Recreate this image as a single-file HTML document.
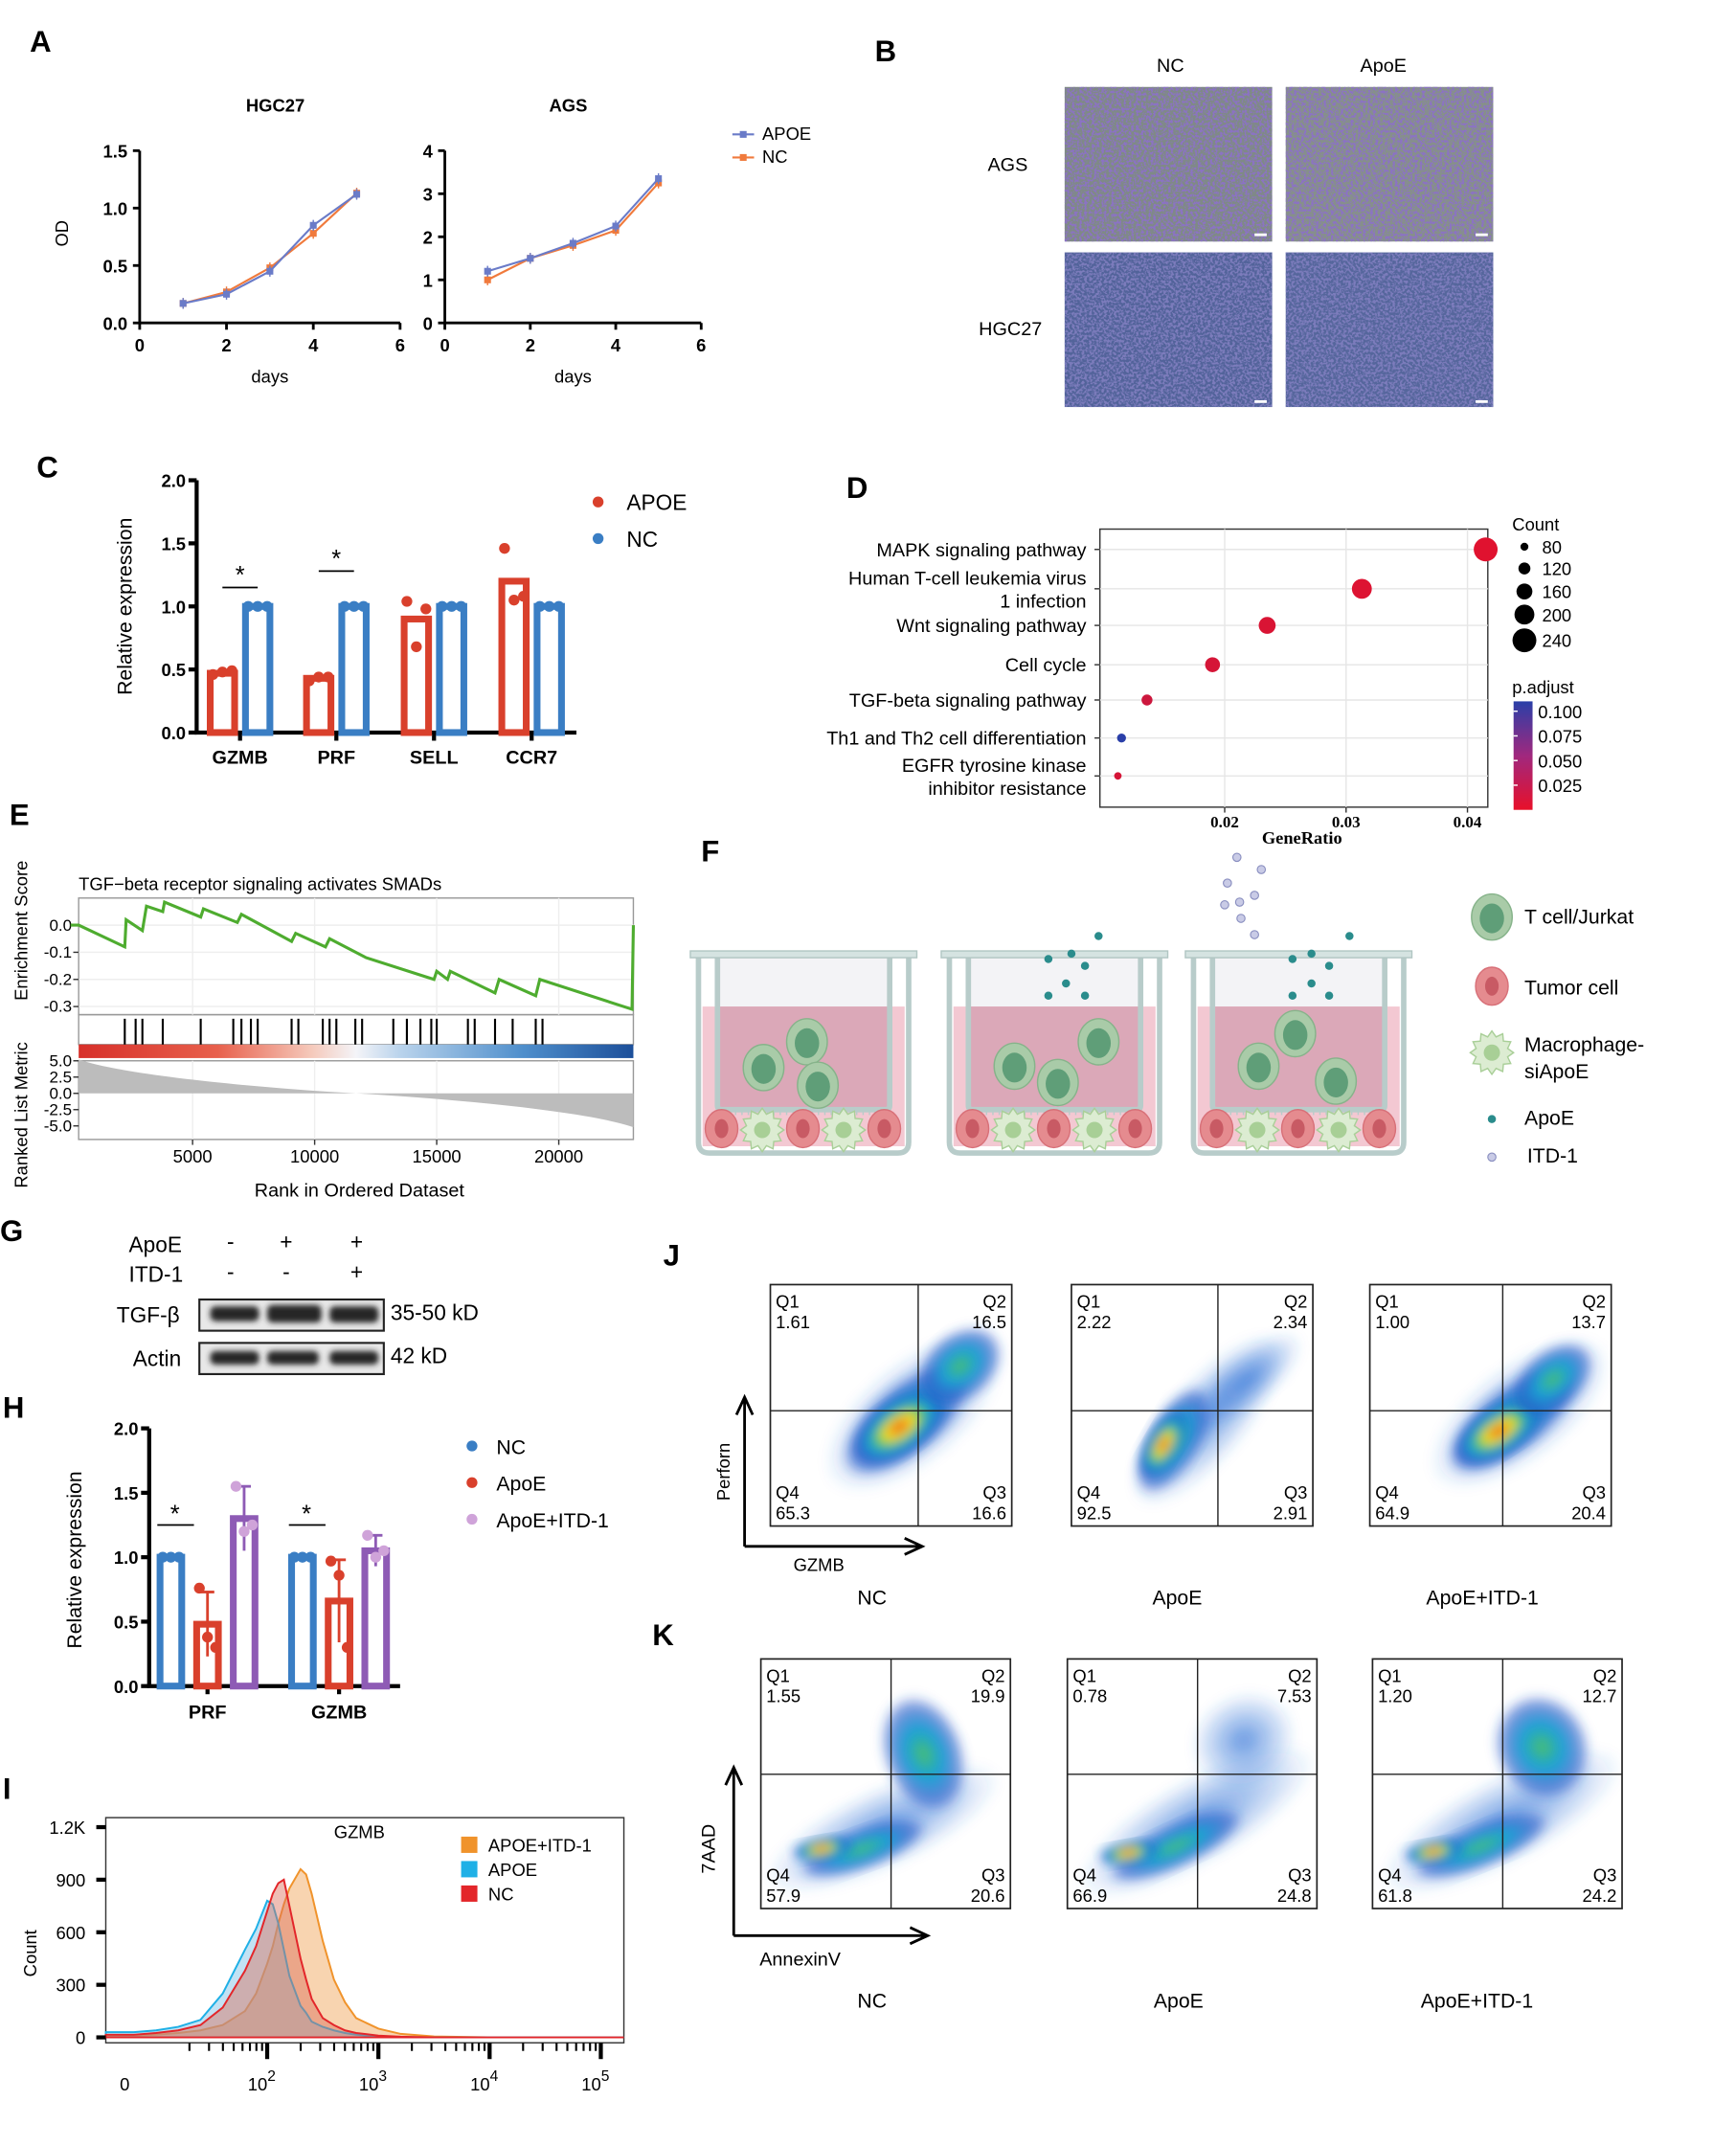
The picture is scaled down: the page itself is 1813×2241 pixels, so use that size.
<!DOCTYPE html>
<html><head><meta charset="utf-8">
<style>
html,body{margin:0;padding:0;background:#fff;}
svg{display:block;font-family:"Liberation Sans",Arial,sans-serif;}
.pl{font-weight:bold;font-size:22px;}
</style></head>
<body>
<svg id="fig" width="1813" height="2241" viewBox="0 0 1280 1582" xmlns="http://www.w3.org/2000/svg">
<defs>
<filter id="texP" x="0" y="0" width="100%" height="100%"><feTurbulence type="fractalNoise" baseFrequency="0.55" numOctaves="2" seed="3"/><feColorMatrix type="matrix" values="0 0 0 0 0.26  0 0 0 0 0.17  0 0 0 0 0.55  6 0 0 0 -2.7"/><feComposite in2="SourceGraphic" operator="in"/></filter>
<filter id="texB" x="0" y="0" width="100%" height="100%"><feTurbulence type="fractalNoise" baseFrequency="0.55" numOctaves="2" seed="7"/><feColorMatrix type="matrix" values="0 0 0 0 0.2  0 0 0 0 0.2  0 0 0 0 0.5  6 0 0 0 -2.6"/><feComposite in2="SourceGraphic" operator="in"/></filter>
<filter id="blur"><feGaussianBlur stdDeviation="4"/></filter>
<filter id="blur2"><feGaussianBlur stdDeviation="2"/></filter>
<linearGradient id="padj" x1="0" y1="0" x2="0" y2="1"><stop offset="0" stop-color="#2a3fa8"/><stop offset="0.5" stop-color="#a0287e"/><stop offset="1" stop-color="#e8102a"/></linearGradient>
<linearGradient id="rankbar" x1="0" y1="0" x2="1" y2="0"><stop offset="0" stop-color="#d7302a"/><stop offset="0.25" stop-color="#e8604c"/><stop offset="0.42" stop-color="#f5c9bb"/><stop offset="0.5" stop-color="#f4f4f8"/><stop offset="0.58" stop-color="#b9d3ec"/><stop offset="0.8" stop-color="#4f8fcc"/><stop offset="1" stop-color="#1c4f9a"/></linearGradient>
<radialGradient id="dens"><stop offset="0" stop-color="#e31a1c"/><stop offset="0.18" stop-color="#f7a21b"/><stop offset="0.32" stop-color="#f4e623"/><stop offset="0.48" stop-color="#4cc06a"/><stop offset="0.65" stop-color="#19a3d6"/><stop offset="0.85" stop-color="#2456c8" stop-opacity="0.8"/><stop offset="1" stop-color="#2456c8" stop-opacity="0"/></radialGradient>
<radialGradient id="densL"><stop offset="0" stop-color="#4cc06a"/><stop offset="0.4" stop-color="#19a3d6"/><stop offset="0.8" stop-color="#2456c8" stop-opacity="0.6"/><stop offset="1" stop-color="#2456c8" stop-opacity="0"/></radialGradient>
<radialGradient id="densS"><stop offset="0" stop-color="#2a6fd6" stop-opacity="0.7"/><stop offset="1" stop-color="#2a6fd6" stop-opacity="0"/></radialGradient>
</defs>

<g>
<text class="pl" x="22" y="38">A</text><text class="pl" x="645" y="45">B</text><text class="pl" x="27" y="352">C</text>
<text class="pl" x="624" y="367">D</text><text class="pl" x="7" y="608">E</text><text class="pl" x="517" y="635">F</text>
<text class="pl" x="0" y="915">G</text><text class="pl" x="2" y="1045">H</text><text class="pl" x="2" y="1326">I</text>
<text class="pl" x="489" y="933">J</text><text class="pl" x="481" y="1213">K</text>
</g>

<g id="panelB" font-size="14">
<text x="863" y="53" text-anchor="middle">NC</text><text x="1020" y="53" text-anchor="middle">ApoE</text>
<text x="743" y="126" text-anchor="middle">AGS</text><text x="745" y="247" text-anchor="middle">HGC27</text>
<rect x="785" y="64" width="153" height="114" fill="#7f8a86"/>
<rect x="785" y="64" width="153" height="114" fill="#000" filter="url(#texP)"/>
<rect x="948" y="64" width="153" height="114" fill="#86908a"/>
<rect x="948" y="64" width="153" height="114" fill="#000" filter="url(#texP)"/>
<rect x="785" y="186" width="153" height="114" fill="#52639a"/>
<rect x="785" y="186" width="153" height="114" fill="#000" filter="url(#texB)"/>
<rect x="948" y="186" width="153" height="114" fill="#55669c"/>
<rect x="948" y="186" width="153" height="114" fill="#000" filter="url(#texB)"/>
<g fill="#fff"><rect x="925" y="172" width="9" height="2"/><rect x="1088" y="172" width="9" height="2"/><rect x="925" y="295" width="9" height="2"/><rect x="1088" y="295" width="9" height="2"/></g>
</g>

<g id="panelF"></g>

<g id="panelG" font-size="16">
<text x="95" y="923">ApoE</text><text x="95" y="945">ITD-1</text>
<text x="170" y="921" text-anchor="middle">-</text><text x="211" y="921" text-anchor="middle">+</text><text x="263" y="921" text-anchor="middle">+</text>
<text x="170" y="943" text-anchor="middle">-</text><text x="211" y="943" text-anchor="middle">-</text><text x="263" y="943" text-anchor="middle">+</text>
<text x="86" y="975">TGF-β</text><text x="98" y="1007">Actin</text>
<rect x="147" y="958" width="136" height="23" fill="#e8e8e8" stroke="#222" stroke-width="1.5"/>
<rect x="147" y="990" width="136" height="23" fill="#e8e8e8" stroke="#222" stroke-width="1.5"/>
<g fill="#262626" filter="url(#blur2)">
<rect x="155" y="963" width="36" height="11" rx="4"/><rect x="197" y="962" width="40" height="13" rx="4"/><rect x="243" y="963" width="36" height="12" rx="4"/>
<rect x="155" y="996" width="36" height="10" rx="4"/><rect x="197" y="996" width="38" height="10" rx="4"/><rect x="243" y="996" width="36" height="10" rx="4"/>
</g>
<text x="288" y="973">35-50 kD</text><text x="288" y="1005">42 kD</text>
</g>

<g id="panelJK"></g>

<g id="charts"></g>
</svg>

<script>
// Panel A
const aDays = [1,2,3,4,5];
const hgcApoe = [0.17,0.25,0.45,0.85,1.12];
const hgcNC = [0.17,0.27,0.48,0.78,1.13];
const agsApoe = [1.2,1.5,1.85,2.25,3.35];
const agsNC = [1.0,1.5,1.8,2.15,3.25];
// Panel C
const cGenes = ["GZMB","PRF","SELL","CCR7"];
const cApoe = [0.47,0.43,0.90,1.20];
const cNC = [1.0,1.0,1.0,1.0];
const cApoePts = [[0.46,0.48,0.49],[0.41,0.44,0.44],[1.04,0.68,0.98],[1.46,1.05,1.08]];
const cYTicks = [0,0.5,1.0,1.5,2.0];
// Panel D
const dPaths = ["MAPK signaling pathway","Human T-cell leukemia virus|1 infection","Wnt signaling pathway","Cell cycle","TGF-beta signaling pathway","Th1 and Th2 cell differentiation","EGFR tyrosine kinase|inhibitor resistance"];
const dRatio = [0.0415,0.0313,0.0235,0.019,0.0136,0.0115,0.0112];
const dCount = [240,200,170,150,110,90,75];
const dPadj = [0.004,0.006,0.008,0.010,0.015,0.100,0.010];
const dXTicks = [0.02,0.03,0.04];
const dCountLegend = [80,120,160,200,240];
const dPadjTicks = [0.100,0.075,0.050,0.025];
// Panel E
const eRank = [0,333,2222,2278,2944,3111,3778,3850,5333,5444,6833,7000,9056,9222,10444,10611,12111,14889,15000,15444,15556,17389,17556,19056,19222,23000,23056];
const eES   = [0,0.0,-0.08,0.02,-0.02,0.07,0.05,0.085,0.03,0.06,0.01,0.04,-0.06,-0.03,-0.08,-0.05,-0.12,-0.2,-0.17,-0.2,-0.17,-0.25,-0.2,-0.26,-0.2,-0.31,0.0];
const eHits = [2222,2667,2944,3778,5333,6667,7000,7389,7667,9056,9333,10333,10611,10889,11667,11944,13222,13778,14333,14778,15000,16278,16556,17389,18111,19056,19333];
const eXTicks = [5000,10000,15000,20000];
const eYTicks = [0.0,-0.1,-0.2,-0.3];
const eMetricTicks = [5.0,2.5,0.0,-2.5,-5.0];
// Panel H
const hGenes = ["PRF","GZMB"];
const hNC = [1.0,1.0];
const hApoe = [0.48,0.66];
const hItd = [1.30,1.05];
const hApoeErr = [0.25,0.32];
const hItdErr = [0.25,0.12];
const hApoePts = [[0.76,0.38,0.30],[0.97,0.86,0.30]];
const hItdPts = [[1.55,1.20,1.25],[1.17,1.00,1.05]];
const hYTicks = [0,0.5,1.0,1.5,2.0];
// Panel I
const iLog = [0.8,1.0,1.2,1.4,1.6,1.8,1.9,2.0,2.05,2.1,2.15,2.2,2.3,2.35,2.4,2.5,2.6,2.7,2.8,3.0,3.2,3.5,4.0,4.5];
const iApoe = [30,40,60,100,250,500,620,780,760,650,500,350,180,140,90,60,40,25,15,5,2,0,0,0];
const iNC   = [15,25,40,70,170,380,520,720,820,880,900,750,450,330,220,110,70,40,25,10,4,0,0,0];
const iItd  = [10,15,25,40,70,150,250,420,520,650,760,850,960,930,820,550,330,200,110,50,20,5,0,0];
const iYTicks = [0,300,600,900,1200];
const iYLabels = ["0","300","600","900","1.2K"];
const iXDecades = [2,3,4,5];
// Flow quadrant values
const jGroups = ["NC","ApoE","ApoE+ITD-1"];
const jQ1 = ["1.61","2.22","1.00"], jQ2 = ["16.5","2.34","13.7"], jQ3 = ["16.6","2.91","20.4"], jQ4 = ["65.3","92.5","64.9"];
const kQ1 = ["1.55","0.78","1.20"], kQ2 = ["19.9","7.53","12.7"], kQ3 = ["20.6","24.8","24.2"], kQ4 = ["57.9","66.9","61.8"];

const NS = "http://www.w3.org/2000/svg";
const root = document.getElementById("charts");
function el(tag, attrs, parent, txt){
  const e = document.createElementNS(NS, tag);
  for (const k in attrs) e.setAttribute(k, attrs[k]);
  if (txt !== undefined) e.textContent = txt;
  (parent || root).appendChild(e);
  return e;
}
function grp(name, parent){
  const g = el("g", {}, parent);
  
  
  return g;
}

function lineChart(name, title, x0, x1, y0, y1, ymax, yTicks, apoe, nc, titleX){
  const g = grp(name);
  const sx = d => x0 + d/6*(x1-x0);
  const sy = v => y0 - v/ymax*(y0-y1);
  el("text", {x:titleX, y:82, "text-anchor":"middle", "font-size":13, "font-weight":"bold"}, g, title);
  el("path", {d:`M${x0} ${y1}V${y0}H${x1}`, fill:"none", stroke:"#000", "stroke-width":2}, g);
  yTicks.forEach(t => {
    el("line", {x1:x0-5, x2:x0, y1:sy(t), y2:sy(t), stroke:"#000", "stroke-width":2}, g);
    el("text", {x:x0-9, y:sy(t)+5, "text-anchor":"end", "font-size":13, "font-weight":"bold"}, g, t.toFixed(ymax<2?1:0));
  });
  [0,2,4,6].forEach(d => {
    el("line", {x1:sx(d), x2:sx(d), y1:y0, y2:y0+5, stroke:"#000", "stroke-width":2}, g);
    el("text", {x:sx(d), y:y0+21, "text-anchor":"middle", "font-size":13, "font-weight":"bold"}, g, d);
  });
  el("text", {x:(x0+x1)/2, y:y0+44, "text-anchor":"middle", "font-size":13}, g, "days");
  [[nc,"#f07a3c"],[apoe,"#6a7bc8"]].forEach(([s,c]) => {
    const l = el("polyline", {points:aDays.map((d,i)=>sx(d)+","+sy(s[i])).join(" "), fill:"none", stroke:c, "stroke-width":1.5}, g);
    
    aDays.forEach((d,i) => {
      el("line", {x1:sx(d), x2:sx(d), y1:sy(s[i])-4, y2:sy(s[i])+4, stroke:c, "stroke-width":1}, g);
      el("rect", {x:sx(d)-2.5, y:sy(s[i])-2.5, width:5, height:5, fill:c}, g);
    });
  });
}
lineChart("hgc27-growth-chart","HGC27",103,295,238,111,1.5,[0,0.5,1.0,1.5],hgcApoe,hgcNC,203);
lineChart("ags-growth-chart","AGS",328,517,238,111,4,[0,1,2,3,4],agsApoe,agsNC,419);
{
  const g = grp("panel-a-legend");
  el("text", {x:50, y:172, "font-size":13, transform:"rotate(-90 50 172)", "text-anchor":"middle"}, g, "OD");
  el("line", {x1:540,x2:556,y1:99,y2:99,stroke:"#6a7bc8","stroke-width":1.5}, g);
  el("rect", {x:545.5,y:96.5,width:5,height:5,fill:"#6a7bc8"}, g);
  el("text", {x:562,y:103,"font-size":13}, g, "APOE");
  el("line", {x1:540,x2:556,y1:116,y2:116,stroke:"#f07a3c","stroke-width":1.5}, g);
  el("rect", {x:545.5,y:113.5,width:5,height:5,fill:"#f07a3c"}, g);
  el("text", {x:562,y:120,"font-size":13}, g, "NC");
}

{
  const g = grp("panel-c-bar-chart");
  const x0=145, x1=425, y0=540, y1=354;
  const sy = v => y0 - v/2*(y0-y1);
  const centers = [177,248,320,392];
  el("path", {d:`M${x0} ${y1}V${y0}H${x1}`, fill:"none", stroke:"#000", "stroke-width":3}, g);
  cYTicks.forEach(t => {
    el("line", {x1:x0-6,x2:x0,y1:sy(t),y2:sy(t),stroke:"#000","stroke-width":3}, g);
    el("text", {x:x0-8,y:sy(t)+5,"text-anchor":"end","font-size":13,"font-weight":"bold"}, g, t.toFixed(1));
  });
  el("text", {x:97,y:447,"font-size":15,transform:"rotate(-90 97 447)","text-anchor":"middle"}, g, "Relative expression");
  cGenes.forEach((gn,i) => {
    const c = centers[i];
    el("line", {x1:c,x2:c,y1:y0,y2:y0+6,stroke:"#000","stroke-width":3}, g);
    el("text", {x:c,y:y0+23,"text-anchor":"middle","font-size":14,"font-weight":"bold"}, g, gn);
    const rb = el("rect", {x:c-22,y:sy(cApoe[i]),width:18,height:y0-sy(cApoe[i]),fill:"#fff",stroke:"#d9402c","stroke-width":5}, g);
    
    const bb = el("rect", {x:c+4,y:sy(cNC[i]),width:18,height:y0-sy(cNC[i]),fill:"#fff",stroke:"#3a7ec4","stroke-width":5}, g);
    
    cApoePts[i].forEach((v,j) => el("circle", {cx:c-20+j*7,cy:sy(v),r:4,fill:"#d9402c"}, g));
    [0,1,2].forEach(j => el("circle", {cx:c+6+j*7,cy:sy(cNC[i]),r:4,fill:"#3a7ec4"}, g));
  });
  [[0,1.15],[1,1.28]].forEach(([i,v]) => {
    el("line", {x1:centers[i]-13,x2:centers[i]+13,y1:sy(v),y2:sy(v),stroke:"#000","stroke-width":1.2}, g);
    el("text", {x:centers[i],y:sy(v)-3,"text-anchor":"middle","font-size":18}, g, "*");
  });
  el("circle",{cx:441,cy:370,r:4,fill:"#d9402c"},g); el("text",{x:462,y:376,"font-size":16},g,"APOE");
  el("circle",{cx:441,cy:397,r:4,fill:"#3a7ec4"},g); el("text",{x:462,y:403,"font-size":16},g,"NC");
}

{
  const g = grp("panel-d-dot-plot");
  const bx0=811, bx1=1097, by0=390, by1=595;
  const sx = r => 724 + r*8950;
  const ys = [405,434,461,490,516,544,572];
  el("rect", {x:bx0,y:by0,width:bx1-bx0,height:by1-by0,fill:"#fff",stroke:"#333","stroke-width":1}, g);
  dXTicks.forEach(t => {
    el("line", {x1:sx(t),x2:sx(t),y1:by0,y2:by1,stroke:"#e6e6e6"}, g);
    el("line", {x1:sx(t),x2:sx(t),y1:by1,y2:by1+4,stroke:"#333"}, g);
    el("text", {x:sx(t),y:by1+15,"text-anchor":"middle","font-size":12,"font-weight":"bold","font-family":"Liberation Serif, serif"}, g, t.toFixed(2));
  });
  el("text", {x:960,y:622,"text-anchor":"middle","font-size":13,"font-weight":"bold","font-family":"Liberation Serif, serif"}, g, "GeneRatio");
  const colr = p => { const f = Math.min(1, p/0.1); const r = Math.round(232 + (42-232)*f), gg = Math.round(16 + (63-16)*f), b = Math.round(42 + (168-42)*f); return `rgb(${r},${gg},${b})`; };
  const rad = c => 2.2 + (c-60)/180*6.6;
  dPaths.forEach((p,i) => {
    el("line", {x1:bx0,x2:bx1,y1:ys[i],y2:ys[i],stroke:"#e6e6e6"}, g);
    el("line", {x1:bx0-4,x2:bx0,y1:ys[i],y2:ys[i],stroke:"#333"}, g);
    const parts = p.split("|");
    if (parts.length===1) el("text",{x:801,y:ys[i]+5,"text-anchor":"end","font-size":14},g,parts[0]);
    else { el("text",{x:801,y:ys[i]-3,"text-anchor":"end","font-size":14},g,parts[0]); el("text",{x:801,y:ys[i]+14,"text-anchor":"end","font-size":14},g,parts[1]); }
    const d = el("circle", {cx:sx(dRatio[i]),cy:ys[i],r:rad(dCount[i]),fill:colr(dPadj[i])}, g);
    
  });
  el("text",{x:1115,y:391,"font-size":13},g,"Count");
  dCountLegend.forEach((c,i) => {
    const y = [403,419,436,453,472][i];
    el("circle",{cx:1124,cy:y,r:rad(c),fill:"#000"},g);
    el("text",{x:1137,y:y+5,"font-size":13},g,c);
  });
  el("text",{x:1115,y:511,"font-size":13},g,"p.adjust");
  el("rect",{x:1116,y:517,width:14,height:80,fill:"url(#padj)"},g);
  dPadjTicks.forEach(t => {
    const y = 597 - t/0.11*80;
    el("line",{x1:1116,x2:1119,y1:y,y2:y,stroke:"#fff"},g);
    el("text",{x:1134,y:y+5,"font-size":13},g,t.toFixed(3));
  });
}

{
  const g = grp("panel-e-gsea");
  const L=58, R=467;
  const sx = r => 52 + r*0.018;
  const sy = v => 682 - v*200;
  el("text",{x:58,y:656,"font-size":13},g,"TGF−beta receptor signaling activates SMADs");
  el("rect",{x:L,y:662,width:R-L,height:86,fill:"none",stroke:"#999"},g);
  el("rect",{x:L,y:748,width:R-L,height:22,fill:"none",stroke:"#999"},g);
  el("rect",{x:L,y:770,width:R-L,height:10,fill:"url(#rankbar)"},g);
  el("rect",{x:L,y:782,width:R-L,height:58,fill:"none",stroke:"#999"},g);
  eXTicks.forEach(t => {
    [ [662,748],[782,840] ].forEach(([a,b]) => el("line",{x1:sx(t),x2:sx(t),y1:a,y2:b,stroke:"#eee"},g));
    el("line",{x1:sx(t),x2:sx(t),y1:840,y2:844,stroke:"#333"},g);
    el("text",{x:sx(t),y:857,"text-anchor":"middle","font-size":13},g,t);
  });
  eYTicks.forEach(t => {
    el("line",{x1:L,x2:R,y1:sy(t),y2:sy(t),stroke:"#eee"},g);
    el("line",{x1:L-4,x2:L,y1:sy(t),y2:sy(t),stroke:"#333"},g);
    el("text",{x:L-5,y:sy(t)+4,"text-anchor":"end","font-size":12},g,t.toFixed(1));
  });
  const es = el("polyline",{points:eRank.map((r,i)=>sx(r)+","+sy(eES[i])).join(" "),fill:"none",stroke:"#4eac2f","stroke-width":2.2},g);
  
  eHits.forEach(r => el("line",{x1:sx(r),x2:sx(r),y1:751,y2:770,stroke:"#000","stroke-width":1.5},g));
  const my = v => 806 - v*4.8;
  eMetricTicks.forEach(t => {
    el("line",{x1:L-4,x2:L,y1:my(t),y2:my(t),stroke:"#333"},g);
    el("text",{x:L-5,y:my(t)+4,"text-anchor":"end","font-size":12},g,t.toFixed(1));
  });
  el("path",{d:`M${L} ${my(0)}L${L} ${my(5.2)}C${L+30} ${my(3)} ${L+120} ${my(1)} ${(L+R)/2} ${my(0)}C${R-120} ${my(-1)} ${R-30} ${my(-3)} ${R} ${my(-5.2)}L${R} ${my(0)}Z`,fill:"#bcbcbc"},g);
  el("text",{x:20,y:686,"font-size":13,transform:"rotate(-90 20 686)","text-anchor":"middle"},g,"Enrichment Score");
  el("text",{x:20,y:822,"font-size":13,transform:"rotate(-90 20 822)","text-anchor":"middle"},g,"Ranked List Metric");
  el("text",{x:265,y:882,"text-anchor":"middle","font-size":14},g,"Rank in Ordered Dataset");
}

{
  const g = grp("panel-h-bar-chart");
  const x0=110, x1=295, y0=1243, y1=1053;
  const sy = v => y0 - v/2*(y0-y1);
  const centers = [153,250];
  el("path",{d:`M${x0} ${y1}V${y0}H${x1}`,fill:"none",stroke:"#000","stroke-width":3},g);
  hYTicks.forEach(t => {
    el("line",{x1:x0-6,x2:x0,y1:sy(t),y2:sy(t),stroke:"#000","stroke-width":3},g);
    el("text",{x:x0-8,y:sy(t)+5,"text-anchor":"end","font-size":13,"font-weight":"bold"},g,t.toFixed(1));
  });
  el("text",{x:60,y:1150,"font-size":15,transform:"rotate(-90 60 1150)","text-anchor":"middle"},g,"Relative expression");
  hGenes.forEach((gn,i) => {
    const c = centers[i];
    el("line",{x1:c,x2:c,y1:y0,y2:y0+6,stroke:"#000","stroke-width":3},g);
    el("text",{x:c,y:y0+24,"text-anchor":"middle","font-size":14,"font-weight":"bold"},g,gn);
    const groups = [[hNC[i],"#3a7ec4",-27,0,null],[hApoe[i],"#d9402c",0,hApoeErr[i],hApoePts[i]],[hItd[i],"#8e5bb5",27,hItdErr[i],hItdPts[i]]];
    groups.forEach(([v,col,off,err,pts]) => {
      const b = el("rect",{x:c+off-8,y:sy(v),width:16,height:y0-sy(v),fill:"#fff",stroke:col,"stroke-width":5},g);
      
      if (err) { el("line",{x1:c+off,x2:c+off,y1:sy(v-err),y2:sy(v+err),stroke:col,"stroke-width":2},g); el("line",{x1:c+off-5,x2:c+off+5,y1:sy(v+err),y2:sy(v+err),stroke:col,"stroke-width":2},g); }
      const ptsv = pts || [v,v,v];
      const pc = col==="#8e5bb5" ? "#cfa3d9" : col;
      ptsv.forEach((p,j) => el("circle",{cx:c+off-6+j*6,cy:sy(p),r:4,fill:pc},g));
    });
    el("line",{x1:c-37,x2:c-10,y1:sy(1.25),y2:sy(1.25),stroke:"#000","stroke-width":1.2},g);
    el("text",{x:c-24,y:sy(1.25)-2,"text-anchor":"middle","font-size":18},g,"*");
  });
  [["NC","#3a7ec4",1066],["ApoE","#d9402c",1093],["ApoE+ITD-1","#cfa3d9",1120]].forEach(([t,c,y]) => {
    el("circle",{cx:348,cy:y,r:4,fill:c},g); el("text",{x:366,y:y+6,"font-size":15},g,t);
  });
}

{
  const g = grp("panel-i-histogram");
  const x0=78, x1=460, y0=1506, y1=1340;
  const sx = l => 197 + (l-2)*82;
  const sy = v => 1502 - v/300*38.75;
  el("rect",{x:x0,y:y1,width:x1-x0,height:y0-y1,fill:"#fff",stroke:"#333","stroke-width":1},g);
  [[iItd,"#f0932b","rgba(240,160,80,0.45)"],[iApoe,"#1fb0e6","rgba(120,190,230,0.45)"],[iNC,"#e3262a","rgba(220,110,90,0.45)"]].forEach(([s,stroke,fill]) => {
    let d = `M${x0} ${sy(0)} L${x0} ${sy(s[0])} ` + iLog.map((l,i)=>`L${Math.min(x1,sx(l))} ${sy(s[i])}`).join(" ") + ` L${x1} ${sy(0)} Z`;
    const p = el("path",{d:d,fill:fill,stroke:stroke,"stroke-width":1.4},g);
    
  });
  iYTicks.forEach((t,i) => {
    el("line",{x1:x0-7,x2:x0,y1:sy(t),y2:sy(t),stroke:"#000","stroke-width":3},g);
    el("text",{x:x0-15,y:sy(t)+5,"text-anchor":"end","font-size":13},g,iYLabels[i]);
  });
  el("text",{x:27,y:1440,"font-size":13,transform:"rotate(-90 27 1440)","text-anchor":"middle"},g,"Count");
  el("text",{x:92,y:1541,"text-anchor":"middle","font-size":13},g,"0");
  iXDecades.forEach(dc => {
    el("line",{x1:sx(dc),x2:sx(dc),y1:y0,y2:y0+12,stroke:"#000","stroke-width":3},g);
    const t = el("text",{x:sx(dc)-4,y:1541,"text-anchor":"middle","font-size":13},g,"10");
    el("tspan",{dy:-7,"font-size":11},t,String(dc));
  });
  for (let l=1; l<5; l++) for (let m=2;m<10;m++) { const x = sx(l+Math.log10(m)); if (x>85 && x<460) el("line",{x1:x,x2:x,y1:y0,y2:y0+6,stroke:"#000","stroke-width":1.5},g); }
  el("text",{x:265,y:1355,"text-anchor":"middle","font-size":13},g,"GZMB");
  [["APOE+ITD-1","#f0932b",1360],["APOE","#1fb0e6",1378],["NC","#e3262a",1396]].forEach(([t,c,y]) => {
    el("rect",{x:340,y:y-6,width:12,height:12,fill:c},g); el("text",{x:360,y:y+5,"font-size":13},g,t);
  });
}

{
  const g = document.getElementById("panelF");
  function tcell(x,y,p){ const c = grp("t-cell",p); el("ellipse",{cx:x,cy:y,rx:15,ry:17,fill:"#a9cba8",stroke:"#86b38a"},c); el("ellipse",{cx:x,cy:y+1,rx:9,ry:11,fill:"#5f9e78"},c); }
  function tumor(x,y,p){ const c = grp("tumor-cell",p); el("ellipse",{cx:x,cy:y,rx:12,ry:14,fill:"#e58b8f",stroke:"#d87078"},c); el("ellipse",{cx:x,cy:y,rx:5,ry:7,fill:"#c85a64"},c); }
  function macro(x,y,p){ const c = grp("macrophage",p); let d=""; for(let k=0;k<24;k++){const a=k/24*2*Math.PI, r=k%2?12:16; d+=(k?"L":"M")+(x+r*Math.cos(a)).toFixed(1)+" "+(y+r*Math.sin(a)).toFixed(1);} el("path",{d:d+"Z",fill:"#dcecd2",stroke:"#a9cf98"},c); el("circle",{cx:x,cy:y,r:6,fill:"#a8cf96"},c); }
  function well(x0, tcs){
    const w = grp("transwell", g);
    el("path",{d:`M${x0} ${703}V${842}q0 8 8 8H${x0+147}q8 0 8-8V${703}`,fill:"#fff",stroke:"#b8ccca","stroke-width":4},w);
    el("rect",{x:x0+3,y:742,width:149,height:103,fill:"#f3c8d2"},w);
    el("rect",{x:x0+14,y:706,width:127,height:36,fill:"#f3f3f6"},w);
    el("rect",{x:x0+14,y:742,width:127,height:75,fill:"#dba8b8"},w);
    el("path",{d:`M${x0+14} 703V815q0 3 3 3H${x0+138}q3 0 3-3V703`,fill:"none",stroke:"#b8ccca","stroke-width":4},w);
    el("rect",{x:x0-6,y:701,width:167,height:5,fill:"#d5e3e1",stroke:"#b1c6c3"},w);
    for (let k=0;k<26;k++) el("line",{x1:x0+18+k*4.7,x2:x0+18+k*4.7,y1:818,y2:822,stroke:"#b8ccca"},w);
    tumor(x0+17,832,w); tumor(x0+77,832,w); tumor(x0+137,832,w);
    macro(x0+47,833,w); macro(x0+107,833,w);
    tcs.forEach(([x,y])=>tcell(x0+x,y,w));
  }
  well(515,[[48,787],[80,768],[88,800]]);
  well(700,[[48,786],[110,768],[80,798]]);
  well(880,[[48,786],[75,762],[105,797]]);
  [[810,690],[773,707],[800,712],[786,725],[773,734],[800,734],[790,703]].forEach(([x,y])=>el("circle",{cx:x,cy:y,r:3,fill:"#2a8c8c"},g));
  [[995,690],[953,707],[980,712],[967,725],[953,734],[980,734],[967,703]].forEach(([x,y])=>el("circle",{cx:x,cy:y,r:3,fill:"#2a8c8c"},g));
  [[912,632],[930,641],[905,651],[925,660],[914,665],[903,667],[915,677],[925,689]].forEach(([x,y])=>el("circle",{cx:x,cy:y,r:3,fill:"#c9cbe6",stroke:"#8a8fc0","stroke-width":0.8},g));
  tcell(1100,676,g); el("text",{x:1124,y:681,"font-size":15},g,"T cell/Jurkat");
  tumor(1100,727,g); el("text",{x:1124,y:733,"font-size":15},g,"Tumor cell");
  macro(1100,776,g); el("text",{x:1124,y:775,"font-size":15},g,"Macrophage-"); el("text",{x:1124,y:795,"font-size":15},g,"siApoE");
  el("circle",{cx:1100,cy:825,r:3,fill:"#2a8c8c"},g); el("text",{x:1124,y:829,"font-size":15},g,"ApoE");
  el("circle",{cx:1100,cy:853,r:3,fill:"#c9cbe6",stroke:"#8a8fc0","stroke-width":0.8},g); el("text",{x:1126,y:857,"font-size":15},g,"ITD-1");
}

{
  const g = document.getElementById("panelJK");
  function flow(name, bx, by, size, gx, gy, q, blobs){
    const p = grp(name, g);
    const cid = "clip"+name;
    const cp = el("clipPath",{id:cid},p); el("rect",{x:bx,y:by,width:size,height:size},cp);
    const inner = el("g",{"clip-path":`url(#${cid})`},p);
    blobs.forEach(([cx,cy,rx,ry,rot,fill]) => el("ellipse",{cx:bx+cx,cy:by+cy,rx:rx,ry:ry,transform:`rotate(${rot} ${bx+cx} ${by+cy})`,fill:fill,filter:"url(#blur)"},inner));
    el("rect",{x:bx,y:by,width:size,height:size,fill:"none",stroke:"#222","stroke-width":1.2},p);
    el("line",{x1:bx+gx,x2:bx+gx,y1:by,y2:by+size,stroke:"#222"},p);
    el("line",{x1:bx,x2:bx+size,y1:by+gy,y2:by+gy,stroke:"#222"},p);
    el("text",{x:bx+4,y:by+17,"font-size":13},p,"Q1"); el("text",{x:bx+4,y:by+32,"font-size":13},p,q[0]);
    el("text",{x:bx+size-4,y:by+17,"font-size":13,"text-anchor":"end"},p,"Q2"); el("text",{x:bx+size-4,y:by+32,"font-size":13,"text-anchor":"end"},p,q[1]);
    el("text",{x:bx+size-4,y:by+size-20,"font-size":13,"text-anchor":"end"},p,"Q3"); el("text",{x:bx+size-4,y:by+size-5,"font-size":13,"text-anchor":"end"},p,q[2]);
    el("text",{x:bx+4,y:by+size-20,"font-size":13},p,"Q4"); el("text",{x:bx+4,y:by+size-5,"font-size":13},p,q[3]);
  }
  const jx = [568,790,1010];
  const jBlobs = [
    [[105,95,80,38,-40,"url(#densS)"],[100,100,58,26,-40,"url(#densL)"],[95,105,40,20,-35,"url(#dens)"],[140,60,35,25,-40,"url(#densL)"]],
    [[100,100,80,30,-50,"url(#densS)"],[75,115,45,20,-60,"url(#densL)"],[68,118,28,13,-60,"url(#dens)"],[130,70,50,20,-40,"url(#densS)"]],
    [[110,95,80,36,-38,"url(#densS)"],[105,100,58,24,-38,"url(#densL)"],[95,108,38,18,-33,"url(#dens)"],[135,70,35,22,-40,"url(#densL)"]]
  ];
  const jgx = [109,108,98], jgy=[93,93,93];
  jGroups.forEach((n,i) => {
    flow("flow-j-"+i, jx[i], 947, 178, jgx[i], jgy[i], [jQ1[i],jQ2[i],jQ3[i],jQ4[i]], jBlobs[i]);
    el("text",{x:jx[i]+[75,78,83][i],y:1183,"font-size":15,"text-anchor":"middle"},g,n);
  });
  const kx = [561,787,1012];
  const kBlobs = [
    [[90,125,95,30,-25,"url(#densS)"],[120,70,30,45,-20,"url(#densL)"],[75,140,50,15,-20,"url(#densL)"],[45,140,22,9,-10,"url(#dens)"]],
    [[95,120,100,32,-30,"url(#densS)"],[130,60,40,35,-30,"url(#densS)"],[80,138,55,16,-25,"url(#densL)"],[45,143,22,9,-10,"url(#dens)"]],
    [[95,120,100,32,-28,"url(#densS)"],[125,65,35,40,-25,"url(#densL)"],[80,138,55,16,-22,"url(#densL)"],[45,142,22,9,-10,"url(#dens)"]]
  ];
  jGroups.forEach((n,i) => {
    flow("flow-k-"+i, kx[i], 1223, 184, 96, 85, [kQ1[i],kQ2[i],kQ3[i],kQ4[i]], kBlobs[i]);
    el("text",{x:kx[i]+[82,82,77][i],y:1480,"font-size":15,"text-anchor":"middle"},g,n);
  });
  el("path",{d:"M549 1140V1030M543 1043L549 1030L555 1043M549 1140H680M667 1134L680 1140L667 1146",fill:"none",stroke:"#000","stroke-width":2},g);
  el("text",{x:538,y:1085,"font-size":13,transform:"rotate(-90 538 1085)","text-anchor":"middle"},g,"Perforn");
  el("text",{x:585,y:1158,"font-size":13},g,"GZMB");
  el("path",{d:"M541 1427V1303M535 1316L541 1303L547 1316M541 1427H684M671 1421L684 1427L671 1433",fill:"none",stroke:"#000","stroke-width":2},g);
  el("text",{x:527,y:1363,"font-size":14,transform:"rotate(-90 527 1363)","text-anchor":"middle"},g,"7AAD");
  el("text",{x:560,y:1449,"font-size":14},g,"AnnexinV");
}
</script>
</body></html>
